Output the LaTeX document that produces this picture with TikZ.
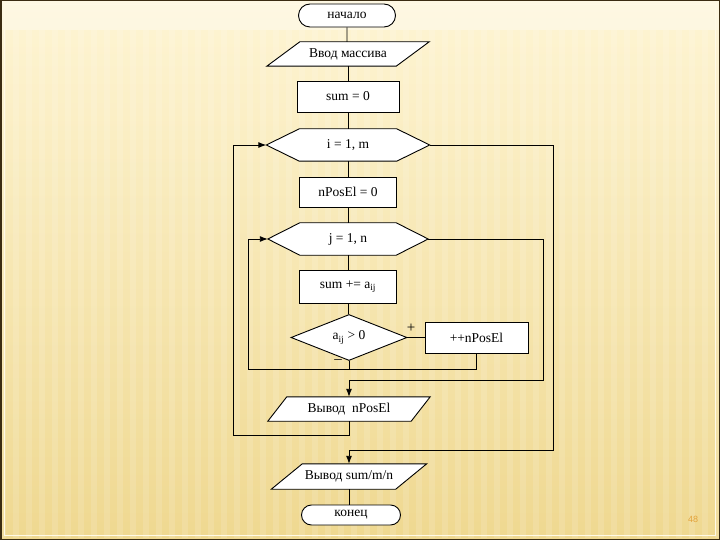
\documentclass[tikz,border=0pt]{standalone}
\usepackage{fontspec}
\setmainfont{Liberation Serif}
\newfontfamily\numfont{Liberation Sans}
\usetikzlibrary{shapes.geometric,shapes.misc,arrows.meta,calc}
\pgfdeclarelayer{slide}
\pgfdeclarelayer{shp}
\pgfsetlayers{slide,shp,main}
\definecolor{bgtop}{HTML}{FEF5D4}
\definecolor{bgbot}{HTML}{EFD890}
\definecolor{framec}{HTML}{3B2C12}
\definecolor{framel}{HTML}{FFF9E6}
\definecolor{pagenum}{HTML}{E3A33A}
\begin{document}
\begin{tikzpicture}[x=1pt,y=-1pt,
  every node/.style={font=\fontsize{13.5}{15}\selectfont, inner sep=0pt},
  line/.style={draw=black, line width=0.9pt},
  arrow/.style={line, -{Latex[length=8pt,width=6pt]}},
  term/.style={rounded rectangle, draw, fill=white, line width=0.9pt},
  procbox/.style={rectangle, draw, fill=white, line width=0.9pt},
  blank/.style={rectangle, draw=none, fill=none},
  shp/.style={draw, fill=white, line width=0.9pt, line join=miter},
  decide/.style={diamond, draw, fill=white, line width=0.9pt},
  sign/.style={font=\fontsize{15}{16}\selectfont}
]
\useasboundingbox (0,0) rectangle (720,540);
\begin{pgfonlayer}{slide}
  \shade[top color=bgtop, bottom color=bgbot] (0,0) rectangle (720,540);
  \fill[white,opacity=0.35] (0,0) rectangle (720,30);
  \foreach \x in {0,13,...,715} \fill[white,opacity=0.13] (\x,30) rectangle ++(6,508);
  \draw[framel, line width=1pt] (4.5,4.5) rectangle (715.5,535.5);
  \draw[framec, line width=1.5pt] (0.75,0.75) rectangle (719.25,539.25);
\end{pgfonlayer}

% nodes
\node[term, minimum width=97pt, minimum height=23pt] (start) at (347,15.5) {начало};
\node[blank, minimum width=162pt, minimum height=24pt] (in) at (348,54) {Ввод массива};
\node[procbox, minimum width=102pt, minimum height=31pt] (s0) at (348,96.5) {sum = 0};
\node[blank, minimum width=163pt, minimum height=32pt] (hi) at (348,145) {i = 1, m};
\node[procbox, minimum width=97pt, minimum height=30pt] (p0) at (348,192) {nPosEl = 0};
\node[blank, minimum width=160pt, minimum height=32pt] (hj) at (348,239) {j = 1, n};
\node[procbox, minimum width=97pt, minimum height=33pt] (acc) at (348,286.5) {sum += a\textsubscript{ij}};
\node[decide, minimum width=116pt, minimum height=39pt] (dec) at (349,337.5) {a\textsubscript{ij} > 0};
\node[procbox, minimum width=103pt, minimum height=31pt] (inc) at (476.5,337.5) {++nPosEl};
\node[blank, minimum width=162pt, minimum height=24pt] (outp) at (349,409) {Вывод\ \ nPosEl};
\node[blank, minimum width=155pt, minimum height=25pt] (outs) at (349,476.5) {Вывод sum/m/n};
\node[term, minimum width=99pt, minimum height=20pt] (end) at (351,515) {конец};

\node[sign] (plus) at (411,328) {+};
\node[sign] (minus) at (338,362) {–};
\node[font=\numfont\fontsize{9}{10}\selectfont, text=pagenum] (pg) at (693,519) {48};

% shapes drawn behind the text
\begin{pgfonlayer}{shp}
  \draw[shp] (in.south west) -- ($(in.north west)+(33,0)$) -- (in.north east) -- ($(in.south east)-(33,0)$) -- cycle;
  \draw[shp] (outp.south west) -- ($(outp.north west)+(19,0)$) -- (outp.north east) -- ($(outp.south east)-(19,0)$) -- cycle;
  \draw[shp] (outs.south west) -- ($(outs.north west)+(31,0)$) -- (outs.north east) -- ($(outs.south east)-(31,0)$) -- cycle;
  \draw[shp] (hi.west) -- ($(hi.north west)+(33,0)$) -- ($(hi.north east)-(33,0)$) -- (hi.east) -- ($(hi.south east)-(33,0)$) -- ($(hi.south west)+(33,0)$) -- cycle;
  \draw[shp] (hj.west) -- ($(hj.north west)+(32,0)$) -- ($(hj.north east)-(32,0)$) -- (hj.east) -- ($(hj.south east)-(32,0)$) -- ($(hj.south west)+(32,0)$) -- cycle;
\end{pgfonlayer}

% loop corner points
\coordinate (jl) at (248,369);
\coordinate (jr) at (543,380);
\coordinate (il) at (233,435);
\coordinate (ir) at (553,450);

% main column
\draw[line] (start) -- (start |- in.north);
\draw[line] (in) -- (s0);
\draw[line] (s0) -- (hi);
\draw[line] (hi) -- (p0);
\draw[line] (p0) -- (hj);
\draw[line] (hj) -- (acc);
\draw[line] (acc.south) -- (acc.south |- dec.north);
\draw[line] (dec.east) -- (inc.west);
\draw[line] (dec.south) -- (dec.south |- jl);
\draw[line] (outs.south) -- (outs.south |- end.north);

% inner loop
\draw[arrow] (inc.south) |- (jl) |- (hj.west);
\draw[arrow] (hj.east) -| (jr) -| (outp.north);
% outer loop
\draw[arrow] (outp.south) |- (il) |- (hi.west);
\draw[arrow] (hi.east) -| (ir) -| (outs.north);
\end{tikzpicture}
\end{document}
